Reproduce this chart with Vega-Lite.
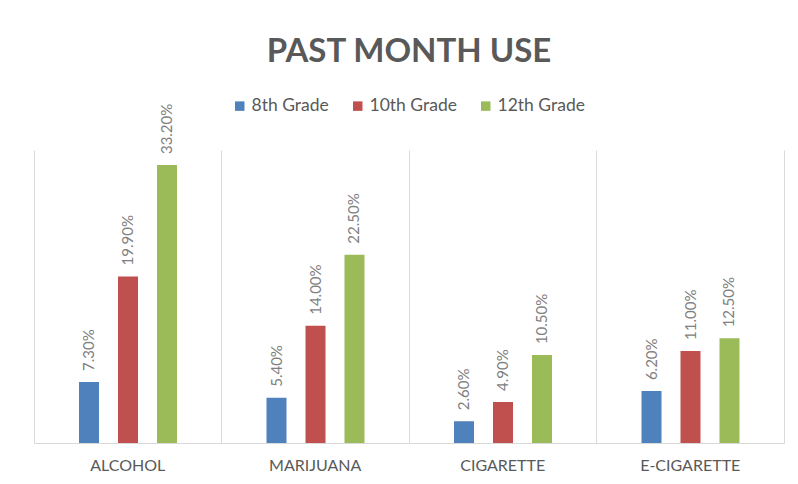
{
  "$schema": "https://vega.github.io/schema/vega-lite/v6.json",
  "width": 750,
  "height": 293,
  "autosize": {"type": "none"},
  "padding": {"left": 34, "top": 150, "right": 14, "bottom": 41},
  "background": "white",
  "config": {"view": {"stroke": null}, "font": "Lato"},
  "title": {"text": "PAST MONTH USE", "font": "Lato", "fontSize": 33, "fontWeight": "bold", "color": "#595959", "anchor": "middle", "offset": 28},
  "data": {"values": [
    {"substance": "ALCOHOL", "grade": "8th Grade", "value": 0.073},
    {"substance": "ALCOHOL", "grade": "10th Grade", "value": 0.199},
    {"substance": "ALCOHOL", "grade": "12th Grade", "value": 0.332},
    {"substance": "MARIJUANA", "grade": "8th Grade", "value": 0.054},
    {"substance": "MARIJUANA", "grade": "10th Grade", "value": 0.14},
    {"substance": "MARIJUANA", "grade": "12th Grade", "value": 0.225},
    {"substance": "CIGARETTE", "grade": "8th Grade", "value": 0.026},
    {"substance": "CIGARETTE", "grade": "10th Grade", "value": 0.049},
    {"substance": "CIGARETTE", "grade": "12th Grade", "value": 0.105},
    {"substance": "E-CIGARETTE", "grade": "8th Grade", "value": 0.062},
    {"substance": "E-CIGARETTE", "grade": "10th Grade", "value": 0.11},
    {"substance": "E-CIGARETTE", "grade": "12th Grade", "value": 0.125}
  ]},
  "encoding": {
    "x": {
      "field": "substance", "type": "nominal",
      "sort": ["ALCOHOL", "MARIJUANA", "CIGARETTE", "E-CIGARETTE"],
      "scale": {"paddingInner": 0, "paddingOuter": 0},
      "axis": {"title": null, "labelAngle": 0, "ticks": false, "grid": true, "bandPosition": 0,
               "gridColor": "#d9d9d9", "domainColor": "#d9d9d9", "labelPadding": 14,
               "labelFont": "Lato", "labelFontSize": 16, "labelColor": "#595959"}
    },
    "xOffset": {"field": "grade", "type": "nominal", "sort": ["8th Grade", "10th Grade", "12th Grade"],
                "scale": {"range": [45, 143], "paddingInner": 0.487, "paddingOuter": 0}},
    "y": {"field": "value", "type": "quantitative", "scale": {"domain": [0, 0.35]},
          "axis": {"orient": "right", "title": null, "labels": false, "ticks": false, "grid": false, "domain": true, "domainColor": "#d9d9d9"}}
  },
  "layer": [
    {
      "mark": {"type": "bar"},
      "encoding": {
        "color": {"field": "grade", "type": "nominal", "sort": ["8th Grade", "10th Grade", "12th Grade"],
                  "scale": {"domain": ["8th Grade", "10th Grade", "12th Grade"], "range": ["#4f81bd", "#c0504d", "#9bbb59"]},
                  "legend": {"title": null, "orient": "none", "direction": "horizontal", "legendX": 197, "legendY": -53,
                             "symbolType": "square", "symbolSize": 90, "symbolStrokeWidth": 0, "symbolOpacity": 1,
                             "labelFont": "Lato", "labelFontSize": 17.5, "labelColor": "#595959", "columnPadding": 20, "labelOffset": 3}}
      }
    },
    {
      "mark": {"type": "text", "angle": 270, "align": "left", "baseline": "middle", "dx": 11, "font": "Lato", "fontSize": 15, "color": "#808080"},
      "encoding": {"text": {"field": "value", "type": "quantitative", "format": ".2%"}}
    }
  ]
}
